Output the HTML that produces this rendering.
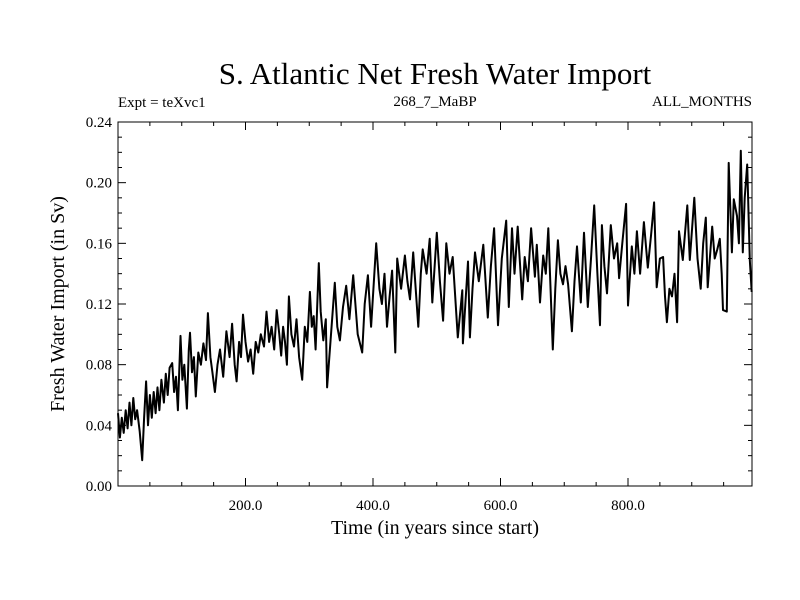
<!DOCTYPE html>
<html><head><meta charset="utf-8"><style>
html,body{margin:0;padding:0;background:#fff;}
svg{display:block;font-family:"Liberation Serif",serif;}
</style></head><body>
<svg id="chart" width="800" height="600" viewBox="0 0 800 600">
<text x="435" y="84" font-size="31" text-anchor="middle">S. Atlantic Net Fresh Water Import</text>
<text x="118" y="107" font-size="15">Expt = teXvc1</text>
<text x="435" y="106" font-size="15" text-anchor="middle">268_7_MaBP</text>
<text x="752" y="106" font-size="15" text-anchor="end">ALL_MONTHS</text>
<text transform="translate(64,304) rotate(-90)" font-size="20" text-anchor="middle">Fresh Water Import (in Sv)</text>
<text x="435" y="534" font-size="20" text-anchor="middle">Time (in years since start)</text>
<g id="axes"></g>
<g id="series"></g>
<rect x="118" y="122" width="634" height="364" fill="none" stroke="#000" stroke-width="1"/>
</svg>
<script>
const years = [0,3,6,9,12,15,18,21,24,27,30,34,38,41,44,47,50,53,56,59,62,65,68,72,75,78,81,85,88,91,94,96,98,101,104,108,111,113,116,119,122,126,130,134,138,141,145,148,152,156,160,165,170,175,179,183,186,190,193,196,200,204,208,212,216,220,224,229,233,237,241,245,249,253,256,259,262,265,268,272,276,280,284,289,293,297,301,304,307,310,315,318,322,326,
328,340,344,348,353,358,363,369,376,383,387,392,397,405,410,414,418,422,426,430,435,438,444,450,454,458,463,467,471,475,478,484,489,493,500,505,510,515,520,525,529,533,540,541,549,552,556,560,566,573,580,585,590,596,602,609,613,618,622,627,634,638,643,648,654,657,662,667,671,675,682,686,690,694,698,702,706,712,716,720,726,731,737,742,747,752,756,759,763,767,773,778,783,786,791,797,800,806,810,814,819,825,831,836,841,845,850,855,858,861,865,869,873,877,880,886,893,897,904,909,914,918,922,925,932,936,940,944,947,949,955,958,963,966,971,974,977,980,983,987,991,994];
const values = [0.048,0.032,0.045,0.035,0.050,0.038,0.055,0.040,0.058,0.044,0.050,0.036,0.017,0.045,0.069,0.040,0.060,0.045,0.062,0.048,0.065,0.050,0.070,0.055,0.074,0.060,0.078,0.081,0.062,0.072,0.050,0.075,0.099,0.070,0.080,0.051,0.090,0.101,0.075,0.085,0.059,0.088,0.080,0.094,0.083,0.114,0.085,0.075,0.062,0.080,0.090,0.072,0.102,0.085,0.107,0.080,0.069,0.095,0.085,0.113,0.095,0.082,0.090,0.074,0.095,0.088,0.100,0.092,0.115,0.095,0.105,0.090,0.116,0.100,0.086,0.105,0.095,0.080,0.125,0.100,0.092,0.110,0.085,0.070,0.105,0.095,0.128,0.105,0.112,0.090,0.147,0.115,0.096,0.110,
0.065,0.134,0.105,0.096,0.118,0.132,0.110,0.139,0.100,0.088,0.120,0.139,0.105,0.160,0.130,0.120,0.140,0.105,0.125,0.142,0.088,0.150,0.130,0.152,0.135,0.123,0.154,0.130,0.105,0.140,0.156,0.140,0.163,0.121,0.167,0.135,0.109,0.160,0.140,0.151,0.125,0.098,0.129,0.094,0.148,0.098,0.130,0.154,0.135,0.159,0.111,0.145,0.170,0.106,0.150,0.175,0.118,0.170,0.140,0.171,0.123,0.151,0.135,0.170,0.138,0.159,0.121,0.152,0.140,0.170,0.090,0.130,0.162,0.140,0.133,0.145,0.133,0.102,0.135,0.158,0.121,0.167,0.118,0.150,0.185,0.140,0.106,0.172,0.145,0.127,0.172,0.150,0.160,0.137,0.160,0.186,0.119,0.158,0.140,0.168,0.140,0.174,0.144,0.165,0.187,0.131,0.150,0.151,0.125,0.108,0.130,0.125,0.140,0.108,0.168,0.149,0.185,0.149,0.190,0.150,0.130,0.160,0.177,0.131,0.171,0.150,0.156,0.163,0.140,0.116,0.115,0.213,0.154,0.189,0.178,0.160,0.221,0.154,0.190,0.212,0.149,0.128];
const yTickLabels = ["0.00","0.04","0.08","0.12","0.16","0.20","0.24"];
const xTickLabels = ["200.0","400.0","600.0","800.0"];

const X0=118,X1=752,Y0=486,Y1=122,XMAX=994.5,YMAX=0.24;
const xs = t => X0 + t/XMAX*(X1-X0);
const ys = v => Y0 - v/YMAX*(Y0-Y1);
const NS="http://www.w3.org/2000/svg";
const axes=document.getElementById('axes');
function line(x1,y1,x2,y2,name){
  const l=document.createElementNS(NS,'line');
  l.setAttribute('x1',x1);l.setAttribute('y1',y1);l.setAttribute('x2',x2);l.setAttribute('y2',y2);
  l.setAttribute('stroke','#000');l.setAttribute('stroke-width','1');
  
  
  axes.appendChild(l);
}
function text(x,y,s,anchor,name){
  const t=document.createElementNS(NS,'text');
  t.setAttribute('x',x);t.setAttribute('y',y);t.setAttribute('font-size','15');t.setAttribute('text-anchor',anchor);
  t.textContent=s;
  
  
  axes.appendChild(t);
}
for(let i=0;i<=24;i++){
  const v=i*0.01, y=ys(v), len=(i%4===0)?8:4;
  line(X0,y,X0+len,y,'y-tick');
  line(X1,y,X1-len,y,'y-tick-right');
}
yTickLabels.forEach(s=>{ text(X0-6, ys(parseFloat(s))+5, s, 'end', 'y-tick-label'); });
for(let t=50;t<XMAX;t+=50){
  const x=xs(t), len=(t%200===0)?8:4;
  line(x,Y0,x,Y0-len,'x-tick');
  line(x,Y1,x,Y1+len,'x-tick-top');
}
xTickLabels.forEach(s=>{ text(xs(parseFloat(s)), Y0+24, s, 'middle', 'x-tick-label'); });

const n=Math.min(years.length,values.length);
const pts=years.slice(0,n).map((t,i)=>xs(t).toFixed(1)+','+ys(values[i]).toFixed(1)).join(' ');
const pl=document.createElementNS(NS,'polyline');
pl.setAttribute('points',pts);pl.setAttribute('fill','none');pl.setAttribute('stroke','#000');
pl.setAttribute('stroke-width','2');pl.setAttribute('stroke-linejoin','round');


document.getElementById('series').appendChild(pl);
</script>
</body></html>
